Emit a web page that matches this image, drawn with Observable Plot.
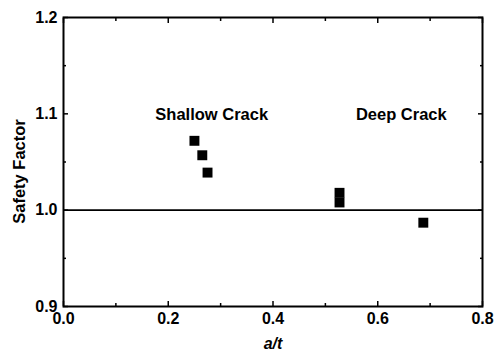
<!DOCTYPE html>
<html>
<head>
<meta charset="utf-8">
<script src="https://cdn.jsdelivr.net/npm/d3@7"></script>
<script src="https://cdn.jsdelivr.net/npm/@observablehq/plot@0.6"></script>
<style>
  html, body { margin: 0; padding: 0; background: #fff; }
  #chart svg { font-family: "Liberation Sans", Arial, sans-serif; }
  #chart g[aria-label="x-axis tick label"] text,
  #chart g[aria-label="y-axis tick label"] text { font-size: 16px; font-weight: bold; fill: #000; }
</style>
</head>
<body>
<div id="chart"></div>
<script>
// Data
const aT = [0.250, 0.265, 0.275, 0.527, 0.527, 0.687];
const safetyFactor = [1.072, 1.057, 1.039, 1.018, 1.008, 0.987];
const group = ["Shallow", "Shallow", "Shallow", "Deep", "Deep", "Deep"];

const annotationText = ["Shallow Crack", "Deep Crack"];
const annotationX = [0.283, 0.645];
const annotationY = [1.099, 1.099];

const xLabel = "a/t";
const yLabel = "Safety Factor";

const referenceLine = [1.0];

const xMajorTicks = [0.0, 0.2, 0.4, 0.6, 0.8];
const xMinorTicks = [0.1, 0.3, 0.5, 0.7];
const yMajorTicks = [0.9, 1.0, 1.1, 1.2];
const yMinorTicks = [0.95, 1.05, 1.15];

const points = aT.map((x, i) => ({x, y: safetyFactor[i], group: group[i]}));
const annotations = annotationText.map((t, i) => ({t, x: annotationX[i], y: annotationY[i]}));

const blank = () => "";

const chart = Plot.plot({
  width: 500,
  height: 351,
  marginLeft: 63,
  marginRight: 18,
  marginTop: 17,
  marginBottom: 45,
  style: {fontFamily: '"Liberation Sans", Arial, sans-serif', fontSize: "16px", fontWeight: "bold", color: "#000", background: "#fff"},
  x: {domain: [0, 0.8]},
  y: {domain: [0.9, 1.2]},
  marks: [
    Plot.ruleY(referenceLine, {stroke: "#000", strokeWidth: 1.6}),
    Plot.axisX({anchor: "bottom", ticks: xMajorTicks, tickSize: -5, tickPadding: 11, tickFormat: d3.format(".1f"), strokeWidth: 1.5, label: null}),
    Plot.axisX({anchor: "bottom", ticks: xMinorTicks, tickSize: -3, tickFormat: blank, label: null, strokeWidth: 1.5}),
    Plot.axisX({anchor: "top", ticks: xMajorTicks, tickSize: -5, tickFormat: blank, label: null, strokeWidth: 1.5}),
    Plot.axisX({anchor: "top", ticks: xMinorTicks, tickSize: -3, tickFormat: blank, label: null, strokeWidth: 1.5}),
    Plot.axisY({anchor: "left", ticks: yMajorTicks, tickSize: -5, tickPadding: 11, tickFormat: d3.format(".1f"), strokeWidth: 1.5, label: null}),
    Plot.axisY({anchor: "left", ticks: yMinorTicks, tickSize: -3, tickFormat: blank, label: null, strokeWidth: 1.5}),
    Plot.axisY({anchor: "right", ticks: yMajorTicks, tickSize: -5, tickFormat: blank, label: null, strokeWidth: 1.5}),
    Plot.axisY({anchor: "right", ticks: yMinorTicks, tickSize: -3, tickFormat: blank, label: null, strokeWidth: 1.5}),
    Plot.frame({stroke: "#000", strokeWidth: 2}),
    Plot.text([xLabel], {frameAnchor: "bottom", dy: 37, textAnchor: "middle", lineAnchor: "middle", text: d => d, fontSize: 16, fontWeight: "bold", fontStyle: "italic", fill: "#000"}),
    Plot.text([yLabel], {frameAnchor: "left", dx: -44, dy: 9.5, rotate: -90, textAnchor: "middle", lineAnchor: "middle", text: d => d, fontSize: 16.5, fontWeight: "bold", fill: "#000"}),
    Plot.dot(points, {x: "x", y: "y", symbol: "square", r: 5.6, fill: "#000", stroke: "none"}),
    Plot.text(annotations, {x: "x", y: "y", text: "t", fontSize: 16.5, fontWeight: "bold", fill: "#000"})
  ]
});

document.getElementById("chart").appendChild(chart);
</script>
</body>
</html>
